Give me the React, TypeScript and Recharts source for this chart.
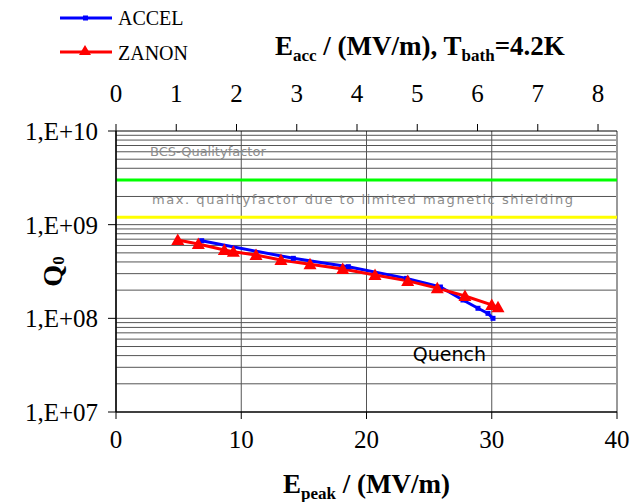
import React from 'react';
import {
  LineChart,
  Line,
  XAxis,
  YAxis,
  CartesianGrid,
  ReferenceLine,
  ReferenceDot,
  Label,
} from 'recharts';

// ---- data ----
const accelEpeak = [6.84, 14.16, 18.55, 23.2, 25.9, 27.7, 28.9, 29.7, 30.1];
const accelQ0 = [6.74e8, 4.37e8, 3.56e8, 2.67e8, 2.16e8, 1.57e8, 1.28e8, 1.13e8, 1.0e8];

const zanonEpeak = [4.93, 6.57, 8.65, 9.37, 11.18, 13.17, 15.49, 18.1, 20.68, 23.29, 25.65, 27.86, 30.0, 30.5];
const zanonQ0 = [6.86e8, 6.22e8, 5.37e8, 5.14e8, 4.74e8, 4.19e8, 3.77e8, 3.36e8, 2.9e8, 2.51e8, 2.1e8, 1.73e8, 1.39e8, 1.31e8];

const epeakTicks = [0, 10, 20, 30, 40];
const eaccTicks = [0, 1, 2, 3, 4, 5, 6, 7, 8];
const eaccMax = 8.315;
const epeakMax = 40;
const q0Ticks = [1e7, 1e8, 1e9, 1e10];
const q0Minor = [
  2e7, 3e7, 4e7, 5e7, 6e7, 7e7, 8e7, 9e7, 1e8,
  2e8, 3e8, 4e8, 5e8, 6e8, 7e8, 8e8, 9e8, 1e9,
  2e9, 3e9, 4e9, 5e9, 6e9, 7e9, 8e9, 9e9,
];
const bcsQ0 = 3.0e9;
const shieldingQ0 = 1.2e9;
const quenchPos = { x: 23.7, y: 4.2e7 };

const accelData = accelEpeak.map((x, i) => ({ x, q: accelQ0[i] }));
const zanonData = zanonEpeak.map((x, i) => ({ x, q: zanonQ0[i] }));
const eaccData = eaccTicks.map((e) => ({ e, q: null as number | null }));

const SERIF = '"Liberation Serif", "Times New Roman", serif';
const SANS = '"DejaVu Sans", Verdana, sans-serif';

const fmtQ = (v: number) => {
  const e = Math.round(Math.log10(v));
  return '1,E+' + (e < 10 ? '0' + e : String(e));
};

const SquareDot = (props: any) => {
  const { cx, cy } = props;
  if (cx == null || cy == null) return null;
  return <rect x={cx - 2.5} y={cy - 2.5} width={5} height={5} fill="#0000ff" />;
};

const TriDot = (props: any) => {
  const { cx, cy } = props;
  if (cx == null || cy == null) return null;
  return (
    <polygon
      points={`${cx},${cy - 6.5} ${cx - 6.5},${cy + 5} ${cx + 6.5},${cy + 5}`}
      fill="#ff0000"
    />
  );
};

const LegendBox = () => (
  <svg width={180} height={70} style={{ position: 'absolute', left: 55, top: 0, display: 'block' }}>
    <line x1={5} y1={18} x2={57} y2={18} stroke="#0000ff" strokeWidth={3} />
    <rect x={28} y={15.5} width={5} height={5} fill="#0000ff" />
    <text x={63} y={25} fontFamily={SERIF} fontSize={20} fill="#000">ACCEL</text>
    <line x1={5} y1={52} x2={57} y2={52} stroke="#ff0000" strokeWidth={3} />
    <polygon points="30,45 24,55 36,55" fill="#ff0000" />
    <text x={63} y={60} fontFamily={SERIF} fontSize={20} fill="#000">ZANON</text>
  </svg>
);

export default function App() {
  return (
    <div style={{ position: 'absolute', left: 0, top: 0, width: 644, height: 502, background: '#fff' }}>
      <LineChart
        width={644}
        height={502}
        margin={{ top: 60, right: 27, bottom: 38, left: 0 }}
      >
        <CartesianGrid
          xAxisId="bottom"
          yAxisId="q"
          horizontal={false}
          vertical
          stroke="#555"
          strokeWidth={1}
        />
        {q0Minor.map((v) => (
          <ReferenceLine
            key={v}
            xAxisId="bottom"
            yAxisId="q"
            y={v}
            stroke="#555"
            strokeWidth={1}
            ifOverflow="hidden"
          />
        ))}
        <ReferenceLine
          xAxisId="bottom"
          yAxisId="q"
          x={epeakMax}
          stroke="#999"
          strokeWidth={2}
        />
        <XAxis
          xAxisId="top"
          orientation="top"
          type="number"
          dataKey="e"
          domain={[0, eaccMax]}
          ticks={eaccTicks}
          allowDataOverflow
          height={71}
          axisLine={{ stroke: '#000' }}
          tickLine={{ stroke: '#000' }}
          tickSize={7}
          tickMargin={22}
          tick={{ fontFamily: SERIF, fontSize: 25, fill: '#000' }}
        >
          <Label
            content={(p: any) => {
              const vb = p.viewBox || { x: 116, y: 60 };
              return (
                <text x={275} y={vb.y - 5} fontFamily={SERIF} fontSize={27} fontWeight="bold" fill="#000">
                  E<tspan fontSize={17} dy={6}>acc</tspan>
                  <tspan dy={-6}> / (MV/m), T</tspan>
                  <tspan fontSize={17} dy={6}>bath</tspan>
                  <tspan dy={-6}>=4.2K</tspan>
                </text>
              );
            }}
          />
        </XAxis>
        <XAxis
          xAxisId="bottom"
          orientation="bottom"
          type="number"
          dataKey="x"
          domain={[0, epeakMax]}
          ticks={epeakTicks}
          allowDataOverflow
          height={52}
          axisLine={{ stroke: '#000', strokeWidth: 1.5 }}
          tickLine={{ stroke: '#000' }}
          tickSize={7}
          tickMargin={11}
          tick={{ fontFamily: SERIF, fontSize: 25, fill: '#000' }}
        >
          <Label
            content={(p: any) => {
              const vb = p.viewBox || { x: 116, y: 412, width: 501 };
              const cx = vb.x + vb.width / 2;
              return (
                <text x={cx} y={vb.y + 81} textAnchor="middle" fontFamily={SERIF} fontSize={27} fontWeight="bold" fill="#000">
                  E<tspan fontSize={17} dy={6}>peak</tspan>
                  <tspan dy={-6}> / (MV/m)</tspan>
                </text>
              );
            }}
          />
        </XAxis>
        <YAxis
          yAxisId="q"
          scale="log"
          type="number"
          domain={[1e7, 1e10]}
          ticks={q0Ticks}
          allowDataOverflow
          width={116}
          tickFormatter={fmtQ}
          axisLine={{ stroke: '#000', strokeWidth: 1.5 }}
          tickLine={{ stroke: '#000' }}
          tickSize={8}
          tickMargin={10}
          tick={{ fontFamily: SERIF, fontSize: 25, fill: '#000' }}
        >
          <Label
            content={(p: any) => {
              const vb = p.viewBox || { x: 0, y: 131, height: 281 };
              const cy = vb.y + vb.height / 2;
              return (
                <text
                  x={52}
                  y={cy}
                  transform={`rotate(-90 52 ${cy})`}
                  textAnchor="middle"
                  dominantBaseline="central"
                  fontFamily={SERIF}
                  fontSize={28}
                  fontWeight="bold"
                  fill="#000"
                >
                  Q<tspan fontSize={17} dy={6}>0</tspan>
                </text>
              );
            }}
          />
        </YAxis>
        <ReferenceLine
          xAxisId="bottom"
          yAxisId="q"
          y={bcsQ0}
          stroke="#00ff00"
          strokeWidth={3}
          label={(p: any) => {
            const vb = p.viewBox;
            return (
              <text x={vb.x + 34} y={vb.y - 24} fontFamily={SANS} fontSize={13} fill="#8c8c8c">
                BCS-Qualityfactor
              </text>
            );
          }}
        />
        <ReferenceLine
          xAxisId="bottom"
          yAxisId="q"
          y={shieldingQ0}
          stroke="#ffff00"
          strokeWidth={3}
          label={(p: any) => {
            const vb = p.viewBox;
            return (
              <text x={vb.x + 36} y={vb.y - 13} fontFamily={SANS} fontSize={13} fill="#8c8c8c" textLength={421}>
                max. qualityfactor due to limited magnetic shielding
              </text>
            );
          }}
        />
        <ReferenceDot
          xAxisId="bottom"
          yAxisId="q"
          x={quenchPos.x}
          y={quenchPos.y}
          r={0}
          fill="none"
          stroke="none"
          label={(p: any) => {
            const vb = p.viewBox;
            const x = vb.x + (vb.width || 0) / 2;
            const y = vb.y + (vb.height || 0) / 2;
            return (
              <text x={x} y={y + 7} fontFamily={SANS} fontSize={19} fill="#000">
                Quench
              </text>
            );
          }}
        />
        <Line
          xAxisId="top"
          yAxisId="q"
          data={eaccData}
          dataKey="q"
          stroke="none"
          dot={false}
          activeDot={false}
          legendType="none"
          isAnimationActive={false}
        />
        <Line
          xAxisId="bottom"
          yAxisId="q"
          data={accelData}
          dataKey="q"
          name="ACCEL"
          stroke="#0000ff"
          strokeWidth={3}
          dot={<SquareDot />}
          activeDot={false}
          isAnimationActive={false}
        />
        <Line
          xAxisId="bottom"
          yAxisId="q"
          data={zanonData}
          dataKey="q"
          name="ZANON"
          stroke="#ff0000"
          strokeWidth={3}
          dot={<TriDot />}
          activeDot={false}
          isAnimationActive={false}
        />
      </LineChart>
      <LegendBox />
    </div>
  );
}
